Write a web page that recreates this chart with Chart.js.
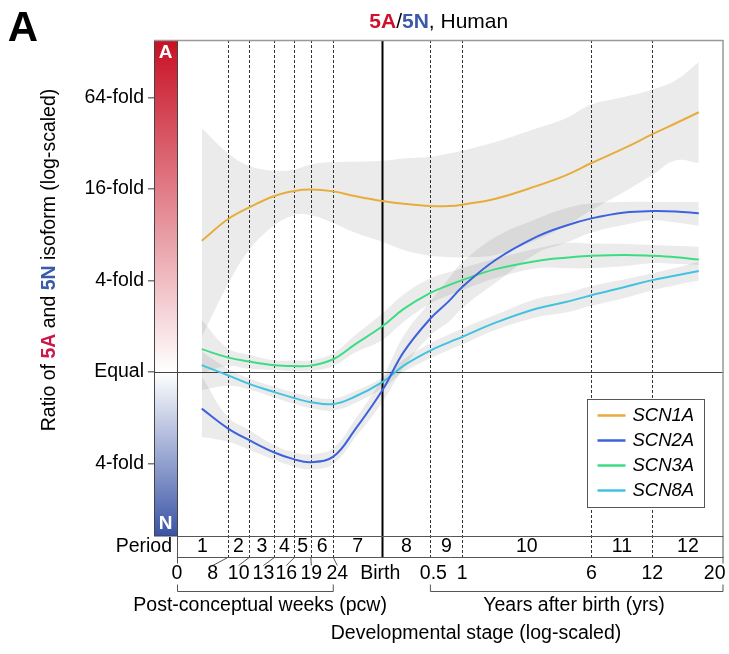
<!DOCTYPE html>
<html>
<head>
<meta charset="utf-8">
<script src="https://cdn.jsdelivr.net/npm/chart.js@4.4.0/dist/chart.umd.min.js"></script>
<style>
  body { margin: 0; background: #fff; }
  canvas { display: block; }
</style>
</head>
<body>
<canvas id="chart" width="729" height="654"></canvas>
<script>
// stage of each smoothed point, in post-conceptual weeks (birth = 40 pcw)
const stagePcw = [6.1, 8, 10, 13, 16, 19, 24, 30, 40, 50, 66, 80, 92, 130, 200, 270, 353, 500, 666, 850, 1080];

// log2(5A / 5N): fitted curve, upper and lower band
const scn1aFit = [2.87, 3.34, 3.60, 3.85, 3.96, 3.99, 3.95, 3.85, 3.74, 3.68, 3.63, 3.63, 3.66, 3.79, 4.07, 4.30, 4.57, 4.90, 5.20, 5.44, 5.68];
const scn1aHi  = [5.33, 4.79, 4.51, 4.40, 4.43, 4.54, 4.59, 4.60, 4.62, 4.67, 4.71, 4.78, 4.84, 5.03, 5.33, 5.55, 5.85, 6.02, 6.18, 6.38, 6.78];
const scn1aLo  = [0.77, 1.91, 2.67, 3.21, 3.43, 3.43, 3.26, 3.05, 2.85, 2.67, 2.54, 2.51, 2.51, 2.56, 2.89, 3.20, 3.54, 3.95, 4.31, 4.63, 4.57];

const scn2aFit = [-0.80, -1.23, -1.49, -1.76, -1.91, -1.97, -1.85, -1.27, -0.40, 0.44, 1.17, 1.55, 1.86, 2.45, 2.96, 3.20, 3.36, 3.49, 3.52, 3.51, 3.47];
const scn2aHi  = [-0.09, -0.98, -1.27, -1.60, -1.76, -1.80, -1.66, -1.05, -0.13, 0.80, 1.55, 2.05, 2.40, 2.95, 3.35, 3.58, 3.69, 3.72, 3.72, 3.72, 3.72];
const scn2aLo  = [-1.42, -1.52, -1.70, -1.92, -2.07, -2.13, -2.01, -1.45, -0.66, 0.10, 0.80, 1.10, 1.40, 1.95, 2.60, 2.82, 3.05, 3.22, 3.32, 3.27, 3.20];

const scn3aFit = [0.50, 0.32, 0.23, 0.15, 0.13, 0.14, 0.28, 0.60, 1.00, 1.38, 1.73, 1.90, 2.01, 2.25, 2.43, 2.50, 2.54, 2.56, 2.54, 2.51, 2.46];
const scn3aHi  = [1.14, 0.52, 0.38, 0.26, 0.25, 0.26, 0.41, 0.80, 1.28, 1.70, 2.05, 2.18, 2.27, 2.48, 2.70, 2.82, 2.81, 2.80, 2.78, 2.76, 2.74];
const scn3aLo  = [-0.03, 0.13, 0.07, 0.04, 0.02, 0.02, 0.13, 0.42, 0.70, 1.10, 1.50, 1.68, 1.79, 2.05, 2.27, 2.27, 2.27, 2.32, 2.38, 2.36, 2.34];

const scn8aFit = [0.15, -0.07, -0.26, -0.44, -0.57, -0.66, -0.70, -0.54, -0.22, 0.14, 0.47, 0.65, 0.77, 1.08, 1.39, 1.53, 1.68, 1.86, 2.01, 2.11, 2.21];
const scn8aHi  = [0.45, 0.08, -0.14, -0.32, -0.45, -0.54, -0.58, -0.42, -0.12, 0.28, 0.63, 0.82, 0.95, 1.25, 1.60, 1.72, 1.88, 2.03, 2.16, 2.28, 2.41];
const scn8aLo  = [-0.40, -0.30, -0.38, -0.56, -0.70, -0.79, -0.84, -0.68, -0.36, 0.00, 0.30, 0.48, 0.60, 0.92, 1.20, 1.30, 1.45, 1.62, 1.79, 1.90, 2.00];

const genes = ['SCN1A', 'SCN2A', 'SCN3A', 'SCN8A'];
const geneColors = ['#e6ad3c', '#3d62dc', '#3ddc84', '#42c2e0'];
const fits = [scn1aFit, scn2aFit, scn3aFit, scn8aFit];
const his = [scn1aHi, scn2aHi, scn3aHi, scn8aHi];
const los = [scn1aLo, scn2aLo, scn3aLo, scn8aLo];

// period boundaries (pcw) and their stage labels
const birthPcw = 40;
const periodBounds = [8, 10, 13, 16, 19, 24, 40, 66, 92, 353, 666];
const boundLabels = ['8', '10', '13', '16', '19', '24', 'Birth', '0.5', '1', '6', '12'];
const boundLabelShift = [-15, -10.5, -11, -8, 0.5, 4, -2, 3, 0, 0, 0];
const periodNames = ['1', '2', '3', '4', '5', '6', '7', '8', '9', '10', '11', '12'];

const foldTicks = [-2, 0, 2, 4, 6];
const foldLabels = ['4-fold', 'Equal', '4-fold', '16-fold', '64-fold'];

const FONT = "'Liberation Sans', Arial, Helvetica, sans-serif";
const TXT = '19.5px ' + FONT;
const BAND = 'rgba(0, 0, 0, 0.078)';
const BAR_W = 23;

const toPts = (arr) => stagePcw.map((x, i) => ({ x: x, y: arr[i] }));

const datasets = [];
genes.forEach((g, i) => {
    datasets.push({
        label: g, data: toPts(fits[i]), borderColor: geneColors[i], borderWidth: 2,
        pointRadius: 0, tension: 0.4, fill: false, order: 0
    });
});
genes.forEach((g, i) => {
    datasets.push({
        label: g + ' hi', data: toPts(his[i]), borderWidth: 0, borderColor: 'transparent',
        backgroundColor: BAND, pointRadius: 0, tension: 0.4, fill: '+1', order: 1
    });
    datasets.push({
        label: g + ' lo', data: toPts(los[i]), borderWidth: 0, borderColor: 'transparent',
        pointRadius: 0, tension: 0.4, fill: false, order: 1
    });
});

function text(ctx, s, x, y, font, color, align) {
    ctx.font = font;
    ctx.fillStyle = color || '#000';
    ctx.textAlign = align || 'center';
    ctx.textBaseline = 'middle';
    ctx.fillText(s, x, y);
}

function hline(ctx, x1, x2, y) { ctx.beginPath(); ctx.moveTo(x1, y); ctx.lineTo(x2, y); ctx.stroke(); }
function seg(ctx, x1, y1, x2, y2) { ctx.beginPath(); ctx.moveTo(x1, y1); ctx.lineTo(x2, y2); ctx.stroke(); }

// draws pieces of [text, color, bold] one after another
function richText(ctx, parts, x, y, size) {
    let total = 0;
    parts.forEach(p => { ctx.font = (p[2] ? 'bold ' : '') + size + 'px ' + FONT; total += ctx.measureText(p[0]).width; });
    let cx = x - total / 2;
    ctx.textAlign = 'left';
    ctx.textBaseline = 'middle';
    parts.forEach(p => {
        ctx.font = (p[2] ? 'bold ' : '') + size + 'px ' + FONT;
        ctx.fillStyle = p[1];
        ctx.fillText(p[0], cx, y);
        cx += ctx.measureText(p[0]).width;
    });
}

const decor = {
    id: 'decor',
    beforeDatasetsDraw(chart) {
        const { ctx, chartArea: a, scales: { x, y } } = chart;
        const stripBottom = a.bottom + 21;
        ctx.save();

        // A / N colour bar
        const y0 = y.getPixelForValue(0);
        const grad = ctx.createLinearGradient(0, a.top, 0, a.bottom);
        const mid = (y0 - a.top) / (a.bottom - a.top);
        grad.addColorStop(0, 'rgb(200, 16, 36)');
        grad.addColorStop(mid, '#ffffff');
        grad.addColorStop(1, 'rgb(58, 84, 166)');
        ctx.fillStyle = grad;
        ctx.fillRect(a.left, a.top, BAR_W, a.bottom - a.top);
        ctx.strokeStyle = '#444';
        ctx.lineWidth = 1;
        ctx.strokeRect(a.left + 0.5, a.top + 0.5, BAR_W, a.bottom - a.top - 0.5);
        text(ctx, 'A', a.left + BAR_W / 2, a.top + 13, 'bold 19px ' + FONT, '#fff');
        text(ctx, 'N', a.left + BAR_W / 2, a.bottom - 12, 'bold 19px ' + FONT, '#fff');

        // period boundaries
        periodBounds.forEach(b => {
            const px = Math.round(x.getPixelForValue(b)) + 0.5;
            if (b === birthPcw) { ctx.setLineDash([]); ctx.lineWidth = 2; ctx.strokeStyle = '#000'; }
            else { ctx.setLineDash([3, 2]); ctx.lineWidth = 1; ctx.strokeStyle = '#333'; }
            seg(ctx, px, a.top, px, stripBottom);
        });
        ctx.setLineDash([]);

        // equal line
        ctx.strokeStyle = '#444';
        ctx.lineWidth = 1;
        hline(ctx, a.left, a.right, Math.round(y0) + 0.5);
        ctx.restore();
    },
    afterDraw(chart) {
        const { ctx, chartArea: a, scales: { x } } = chart;
        const barRight = a.left + BAR_W;
        const stripTop = a.bottom + 0.5;
        const stripBottom = a.bottom + 21.5;
        ctx.save();

        // frame
        ctx.strokeStyle = '#999';
        ctx.lineWidth = 1.5;
        hline(ctx, a.left, a.right, a.top + 0.5);
        seg(ctx, a.right - 0.5, a.top, a.right - 0.5, a.bottom);

        // period strip
        ctx.strokeStyle = '#555';
        ctx.lineWidth = 1;
        hline(ctx, barRight, a.right, stripTop);
        hline(ctx, barRight, a.right, stripBottom);
        seg(ctx, barRight + 0.5, stripTop, barRight + 0.5, stripBottom + 6);
        seg(ctx, a.right - 0.5, stripTop, a.right - 0.5, stripBottom + 6);
        text(ctx, 'Period', barRight - 5, a.bottom + 11, TXT, '#000', 'right');

        const edges = [barRight].concat(periodBounds.map(b => x.getPixelForValue(b)), [a.right]);
        periodNames.forEach((p, i) => {
            text(ctx, p, (edges[i] + edges[i + 1]) / 2, a.bottom + 11, TXT);
        });

        // stage labels
        const labelY = a.bottom + 38;
        text(ctx, '0', barRight, labelY, TXT);
        periodBounds.forEach((b, i) => {
            const px = x.getPixelForValue(b);
            const lx = px + boundLabelShift[i];
            if (b < birthPcw) seg(ctx, px, stripBottom, lx, stripBottom + 8);
            text(ctx, boundLabels[i], lx, labelY, TXT);
        });
        text(ctx, '20', a.right + 2, labelY, TXT, '#000', 'right');

        // brackets
        const brY = a.bottom + 55.5;
        const pcwEnd = x.getPixelForValue(24);
        const yrsStart = x.getPixelForValue(66);
        ctx.beginPath();
        ctx.moveTo(barRight + 0.5, brY - 7); ctx.lineTo(barRight + 0.5, brY);
        ctx.lineTo(pcwEnd, brY); ctx.lineTo(pcwEnd, brY - 7);
        ctx.stroke();
        ctx.beginPath();
        ctx.moveTo(yrsStart, brY - 7); ctx.lineTo(yrsStart, brY);
        ctx.lineTo(a.right - 0.5, brY); ctx.lineTo(a.right - 0.5, brY - 7);
        ctx.stroke();
        text(ctx, 'Post-conceptual weeks (pcw)', (barRight + pcwEnd) / 2 + 5, a.bottom + 70, TXT);
        text(ctx, 'Years after birth (yrs)', (yrsStart + a.right) / 2 - 3, a.bottom + 70, TXT);
        text(ctx, 'Developmental stage (log-scaled)', 476, a.bottom + 98, TXT);

        // legend
        const lx = 587.5, ly = 399.5, lw = 117, lh = 108;
        ctx.fillStyle = '#fff';
        ctx.fillRect(lx, ly, lw, lh);
        ctx.strokeStyle = '#555';
        ctx.lineWidth = 1;
        ctx.strokeRect(lx, ly, lw, lh);
        genes.forEach((g, i) => {
            const cy = ly + 16 + i * 25;
            ctx.strokeStyle = geneColors[i];
            ctx.lineWidth = 2.5;
            hline(ctx, lx + 10, lx + 38, cy);
            text(ctx, g, lx + 45, cy, 'italic 18.5px ' + FONT, '#000', 'left');
        });

        // titles
        richText(ctx, [['5A', '#d0102a', true], ['/', '#000', false], ['5N', '#3a5aa8', true], [', Human', '#000', false]], (a.left + a.right) / 2, 22, 21);
        text(ctx, 'A', 23, 29, 'bold 42px ' + FONT, '#000');

        ctx.translate(50, 260);
        ctx.rotate(-Math.PI / 2);
        richText(ctx, [['Ratio of ', '#000', false], ['5A', '#c8174a', true], [' and ', '#000', false], ['5N', '#3a5aa8', true], [' isoform (log-scaled)', '#000', false]], 0, 0, 19.5);
        ctx.restore();
    }
};

new Chart(document.getElementById('chart').getContext('2d'), {
    type: 'line',
    data: { datasets: datasets },
    options: {
        responsive: false,
        animation: false,
        events: [],
        layout: { padding: { top: 40, right: 5.5, bottom: 118, left: 0 } },
        plugins: { legend: { display: false }, tooltip: { enabled: false } },
        scales: {
            x: { type: 'logarithmic', min: 3.71, max: 1397, display: false },
            y: {
                type: 'linear', min: -3.585, max: 7.26,
                afterBuildTicks: (s) => { s.ticks = foldTicks.map(v => ({ value: v })); },
                afterFit: (s) => { s.width = 154; },
                ticks: {
                    callback: (v, i) => foldLabels[i],
                    font: { family: FONT, size: 19.5 }, color: '#000', padding: 4
                },
                grid: { drawOnChartArea: false, tickLength: 6, color: '#777', lineWidth: 1.5 },
                border: { display: false }
            }
        }
    },
    plugins: [decor]
});
</script>
</body>
</html>
